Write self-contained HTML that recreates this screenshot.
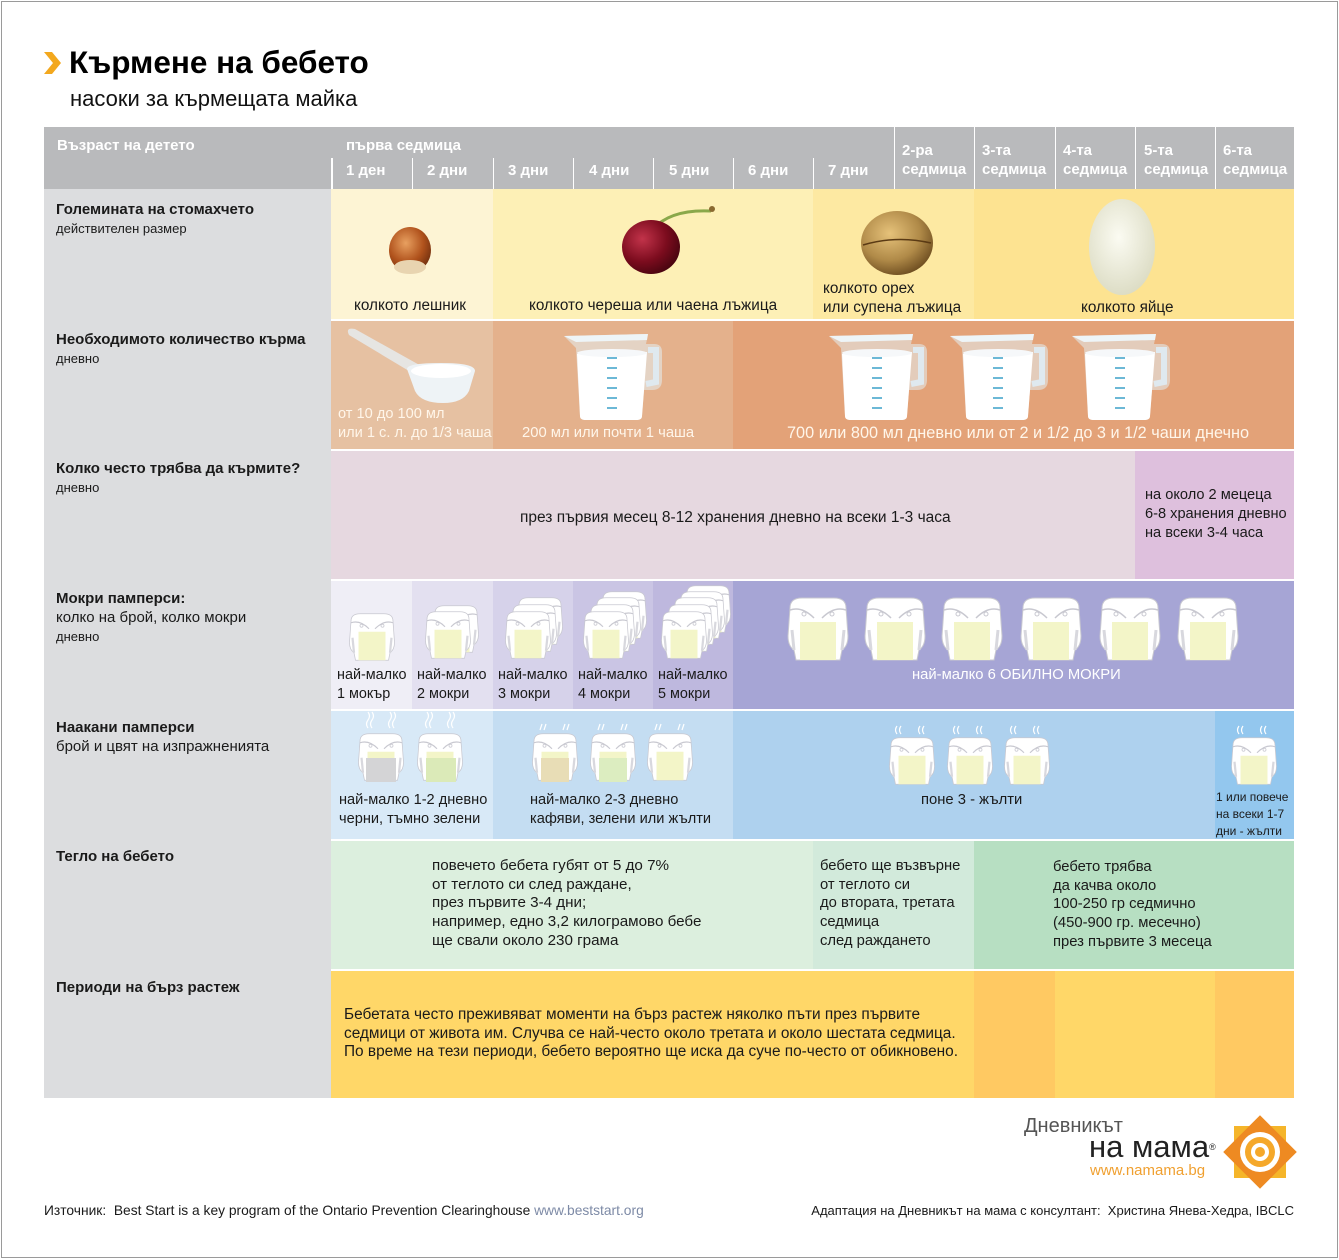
<!DOCTYPE html>
<html><head><meta charset="utf-8">
<style>
*{margin:0;padding:0;box-sizing:border-box}
body{width:1339px;height:1260px;background:#fff;position:relative;overflow:hidden;font-family:"Liberation Sans","DejaVu Sans",sans-serif;color:#1a1a1a}
.a{position:absolute}
.t{position:absolute;white-space:nowrap;font-size:15.3px;line-height:19px}
.h{color:#fff;font-weight:bold;font-size:15px;line-height:19px;position:absolute;white-space:nowrap}
.lb{position:absolute;left:56px;font-size:13px;line-height:19px;white-space:nowrap}
.lb b{font-size:15px}
.w{color:#fff6ea}
</style></head><body>
<div class="a" style="left:1px;top:1px;width:1337px;height:1257px;border:1px solid #9a9a9a"></div>

<svg class="a" style="left:42px;top:50px" width="20" height="26"><polygon points="2,2 10,2 19,13 10,24 2,24 11,13" fill="#f3a81e"/></svg>
<div class="t" style="left:69px;top:43px;font-size:31.5px;line-height:38px;font-weight:bold;color:#000">Кърмене на бебето</div>
<div class="t" style="left:70px;top:85px;font-size:22px;line-height:28px;color:#111">насоки за кърмещата майка</div>

<!-- header -->
<div class="a" style="left:44px;top:127px;width:1250px;height:62px;background:#b9babc"></div>
<div class="a" style="left:331px;top:158px;width:2px;height:31px;background:#fff"></div>
<div class="a" style="left:412px;top:158px;width:1px;height:31px;background:#fff"></div>
<div class="a" style="left:493px;top:158px;width:1px;height:31px;background:#fff"></div>
<div class="a" style="left:573px;top:158px;width:1px;height:31px;background:#fff"></div>
<div class="a" style="left:653px;top:158px;width:1px;height:31px;background:#fff"></div>
<div class="a" style="left:733px;top:158px;width:1px;height:31px;background:#fff"></div>
<div class="a" style="left:813px;top:158px;width:1px;height:31px;background:#fff"></div>
<div class="a" style="left:894px;top:127px;width:1px;height:62px;background:#fff"></div>
<div class="a" style="left:974px;top:127px;width:1px;height:62px;background:#fff"></div>
<div class="a" style="left:1055px;top:127px;width:1px;height:62px;background:#fff"></div>
<div class="a" style="left:1135px;top:127px;width:1px;height:62px;background:#fff"></div>
<div class="a" style="left:1215px;top:127px;width:1px;height:62px;background:#fff"></div>
<div class="h" style="left:57px;top:136px">Възраст на детето</div>
<div class="h" style="left:346px;top:136px">първа седмица</div>
<div class="h" style="left:346px;top:161px">1 ден</div>
<div class="h" style="left:427px;top:161px">2 дни</div>
<div class="h" style="left:508px;top:161px">3 дни</div>
<div class="h" style="left:589px;top:161px">4 дни</div>
<div class="h" style="left:669px;top:161px">5 дни</div>
<div class="h" style="left:748px;top:161px">6 дни</div>
<div class="h" style="left:828px;top:161px">7 дни</div>
<div class="h" style="left:902px;top:141px">2-ра<br>седмица</div>
<div class="h" style="left:982px;top:141px">3-та<br>седмица</div>
<div class="h" style="left:1063px;top:141px">4-та<br>седмица</div>
<div class="h" style="left:1144px;top:141px">5-та<br>седмица</div>
<div class="h" style="left:1223px;top:141px">6-та<br>седмица</div>

<!-- label column -->
<div class="a" style="left:44px;top:189px;width:287px;height:909px;background:#dcdddf"></div>
<div class="lb" style="top:200px"><b>Големината на стомахчето</b><br>действителен размер</div>
<div class="lb" style="top:330px"><b>Необходимото количество кърма</b><br>дневно</div>
<div class="lb" style="top:459px"><b>Колко често трябва да кърмите?</b><br>дневно</div>
<div class="lb" style="top:589px"><b>Мокри памперси:</b><br><span style="font-size:15px">колко на брой, колко мокри</span><br>дневно</div>
<div class="lb" style="top:718px"><b>Наакани памперси</b><br><span style="font-size:15px">брой и цвят на изпражненията</span></div>
<div class="lb" style="top:847px"><b>Тегло на бебето</b></div>
<div class="lb" style="top:978px"><b>Периоди на бърз растеж</b></div>

<!-- stomach row -->
<div class="a" style="left:331px;top:189px;width:162px;height:130px;background:#fdf4d4"></div>
<div class="a" style="left:493px;top:189px;width:320px;height:130px;background:#fdf0b6"></div>
<div class="a" style="left:813px;top:189px;width:161px;height:130px;background:#fde9a2"></div>
<div class="a" style="left:974px;top:189px;width:320px;height:130px;background:#fde391"></div>
<svg class="a" style="left:331px;top:189px" width="963" height="130">
<defs>
<radialGradient id="hz" cx="0.4" cy="0.35" r="0.7"><stop offset="0" stop-color="#e8a060"/><stop offset="0.6" stop-color="#b0521c"/><stop offset="1" stop-color="#6e2e0e"/></radialGradient>
<radialGradient id="ch" cx="0.35" cy="0.35" r="0.7"><stop offset="0" stop-color="#c2334a"/><stop offset="0.6" stop-color="#7c0c1e"/><stop offset="1" stop-color="#4a0510"/></radialGradient>
<radialGradient id="wn" cx="0.4" cy="0.35" r="0.7"><stop offset="0" stop-color="#e6c27a"/><stop offset="0.6" stop-color="#b08a48"/><stop offset="1" stop-color="#6a4a1e"/></radialGradient>
<radialGradient id="eg" cx="0.45" cy="0.4" r="0.7"><stop offset="0" stop-color="#fbfbf2"/><stop offset="1" stop-color="#d8d8be"/></radialGradient>
</defs>
<ellipse cx="79" cy="61" rx="21" ry="23" fill="url(#hz)"/>
<ellipse cx="79" cy="78" rx="16" ry="7" fill="#e8d4b0"/>
<path d="M322 40 Q340 20 380 22" stroke="#8aa84a" stroke-width="3" fill="none"/>
<circle cx="381" cy="20" r="3" fill="#8a6a30"/>
<ellipse cx="320" cy="58" rx="29" ry="27" fill="url(#ch)"/>
<ellipse cx="566" cy="54" rx="36" ry="32" fill="url(#wn)"/>
<path d="M532 56 Q566 46 600 54" stroke="#5a3a14" stroke-width="1.5" fill="none"/>
<ellipse cx="791" cy="58" rx="33" ry="48" fill="url(#eg)"/>
</svg>
<div class="t" style="left:354px;top:296px">колкото лешник</div>
<div class="t" style="left:529px;top:296px">колкото череша или чаена лъжица</div>
<div class="t" style="left:823px;top:279px">колкото орех<br>или супена лъжица</div>
<div class="t" style="left:1081px;top:298px">колкото яйце</div>

<!-- milk row -->
<div class="a" style="left:331px;top:321px;width:162px;height:128px;background:#e6c1a2"></div>
<div class="a" style="left:493px;top:321px;width:240px;height:128px;background:#e4b18c"></div>
<div class="a" style="left:733px;top:321px;width:561px;height:128px;background:#e3a278"></div>
<svg class="a" style="left:0;top:0" width="1339" height="1260">
<defs>
<symbol id="jug" viewBox="0 0 104 92">
<path d="M2 6 L86 4 L84 14 L92 14 Q100 14 100 22 L100 50 Q100 60 90 60 L82 60 L80 86 Q80 90 74 90 L24 90 Q18 90 18 86 L14 18 Z" fill="#e4eef2" opacity="0.55"/>
<path d="M86 20 L94 20 L94 52 L84 54" stroke="#dfe9ef" stroke-width="6" fill="none"/>
<path d="M2 6 L86 4 L85 10 L14 12 Z" fill="#eef5f8"/>
<path d="M15 24 L85 22 L80 86 Q80 90 74 90 L24 90 Q18 90 18 86 Z" fill="#fff"/>
<ellipse cx="50" cy="23" rx="35" ry="4" fill="#f6f8fa"/>
<g stroke="#3aa0c8" stroke-width="1.5"><line x1="45" y1="28" x2="55" y2="28"/><line x1="45" y1="38" x2="55" y2="38"/><line x1="45" y1="48" x2="55" y2="48"/><line x1="45" y1="58" x2="55" y2="58"/><line x1="45" y1="68" x2="55" y2="68"/><line x1="45" y1="78" x2="55" y2="78"/></g>
</symbol>
<symbol id="dp" viewBox="0 0 64 66">
<path d="M4 12 Q4 2 16 2 L48 2 Q60 2 60 12 L62 40 Q62 50 56 54 L54 64 L10 64 L8 54 Q2 50 2 40 Z" fill="#fff" stroke="#c8c8d0" stroke-width="1"/>
<rect x="14" y="26" width="36" height="38" fill="#f3f5c8"/>
<path d="M4 14 Q16 10 28 22 M60 14 Q48 10 36 22" stroke="#c8c8d0" fill="none" stroke-width="1.5"/>
<circle cx="18" cy="18" r="2" fill="none" stroke="#c8c8d0"/><circle cx="46" cy="18" r="2" fill="none" stroke="#c8c8d0"/>
<path d="M6 34 L8 54 M58 34 L56 54" stroke="#d8d8de" stroke-width="3"/>
</symbol>
</defs>
<g transform="translate(345,327)">
<path d="M4 8 Q0 0 10 2 L78 40 L74 50 Z" fill="#e6eef2" opacity="0.8"/>
<path d="M62 42 Q62 36 96 36 Q130 36 130 44 L124 64 Q118 76 98 76 Q76 76 70 64 Z" fill="#eef3f6"/>
<ellipse cx="96" cy="44" rx="30" ry="7" fill="#fff"/>
</g>
<use href="#jug" x="562" y="330" width="104" height="92"/>
<use href="#jug" x="827" y="330" width="104" height="92"/>
<use href="#jug" x="948" y="330" width="104" height="92"/>
<use href="#jug" x="1070" y="330" width="104" height="92"/>
</svg>
<div class="t w" style="left:338px;top:405px;font-size:14.6px">от 10 до 100 мл<br>или 1 с. л. до 1/3 чаша</div>
<div class="t w" style="left:522px;top:424px;font-size:14.8px">200 мл или почти 1 чаша</div>
<div class="t w" style="left:787px;top:424px;font-size:16.3px">700 или 800 мл дневно или от 2 и 1/2 до 3 и 1/2 чаши днечно</div>

<!-- frequency -->
<div class="a" style="left:331px;top:451px;width:804px;height:128px;background:#e6d8e0"></div>
<div class="a" style="left:1135px;top:451px;width:159px;height:128px;background:#dec0dd"></div>
<div class="t" style="left:520px;top:508px;font-size:15.5px">през първия месец 8-12 хранения дневно на всеки 1-3 часа</div>
<div class="t" style="left:1145px;top:486px;font-size:14.6px">на около 2 мецеца<br>6-8 хранения дневно<br>на всеки 3-4 часа</div>

<!-- wet -->
<div class="a" style="left:331px;top:581px;width:81px;height:128px;background:#efeef6"></div>
<div class="a" style="left:412px;top:581px;width:81px;height:128px;background:#e3e0f0"></div>
<div class="a" style="left:493px;top:581px;width:80px;height:128px;background:#d6d2ea"></div>
<div class="a" style="left:573px;top:581px;width:80px;height:128px;background:#cac5e4"></div>
<div class="a" style="left:653px;top:581px;width:80px;height:128px;background:#beb8de"></div>
<div class="a" style="left:733px;top:581px;width:561px;height:128px;background:#a6a5d5"></div>

<!-- poop -->
<div class="a" style="left:331px;top:711px;width:162px;height:128px;background:#d8e9f7"></div>
<div class="a" style="left:493px;top:711px;width:240px;height:128px;background:#c4ddf2"></div>
<div class="a" style="left:733px;top:711px;width:482px;height:128px;background:#aed1ee"></div>
<div class="a" style="left:1215px;top:711px;width:79px;height:128px;background:#93c7ee"></div>

<svg class="a" style="left:0;top:0" width="1339" height="1260">
<use href="#dp" x="348" y="612" width="48" height="50"/>
<use href="#dp" x="432" y="604" width="48" height="50"/><use href="#dp" x="424" y="610" width="48" height="50"/>
<use href="#dp" x="516" y="596" width="48" height="50"/><use href="#dp" x="510" y="603" width="48" height="50"/><use href="#dp" x="504" y="610" width="48" height="50"/>
<use href="#dp" x="600" y="590" width="48" height="50"/><use href="#dp" x="594" y="596" width="48" height="50"/><use href="#dp" x="588" y="603" width="48" height="50"/><use href="#dp" x="582" y="610" width="48" height="50"/>
<use href="#dp" x="684" y="584" width="48" height="50"/><use href="#dp" x="678" y="590" width="48" height="50"/><use href="#dp" x="672" y="596" width="48" height="50"/><use href="#dp" x="666" y="603" width="48" height="50"/><use href="#dp" x="660" y="610" width="48" height="50"/>
<use href="#dp" x="786" y="596" width="64" height="66"/>
<use href="#dp" x="863" y="596" width="64" height="66"/>
<use href="#dp" x="940" y="596" width="64" height="66"/>
<use href="#dp" x="1019" y="596" width="64" height="66"/>
<use href="#dp" x="1098" y="596" width="64" height="66"/>
<use href="#dp" x="1176" y="596" width="64" height="66"/>
<use href="#dp" x="357" y="732" width="48" height="50"/><use href="#dp" x="416" y="732" width="48" height="50"/>
<use href="#dp" x="531" y="732" width="48" height="50"/><use href="#dp" x="589" y="732" width="48" height="50"/><use href="#dp" x="646" y="732" width="48" height="50"/>
<use href="#dp" x="888" y="736" width="48" height="50"/><use href="#dp" x="946" y="736" width="48" height="50"/><use href="#dp" x="1003" y="736" width="48" height="50"/>
<use href="#dp" x="1230" y="736" width="48" height="50"/>
<rect x="366" y="758" width="30" height="24" fill="#d4d4d6"/><rect x="426" y="758" width="30" height="24" fill="#dbeab8"/>
<rect x="541" y="758" width="28" height="24" fill="#e8ddb6"/><rect x="599" y="758" width="28" height="24" fill="#dcedc0"/>
<g stroke="#ffffff" stroke-width="1.2" fill="none">
<path d="M368 728 q-3 -4 0 -8 q3 -4 0 -8 M372 728 q-3 -4 0 -8 q3 -4 0 -8 M390 728 q-3 -4 0 -8 q3 -4 0 -8 M394 728 q-3 -4 0 -8 q3 -4 0 -8"/>
<path d="M427 728 q-3 -4 0 -8 q3 -4 0 -8 M431 728 q-3 -4 0 -8 q3 -4 0 -8 M449 728 q-3 -4 0 -8 q3 -4 0 -8 M453 728 q-3 -4 0 -8 q3 -4 0 -8"/>
<path d="M540 730 l2 -6 M544 730 l2 -6 M563 730 l2 -6 M567 730 l2 -6 M598 730 l2 -6 M602 730 l2 -6 M621 730 l2 -6 M625 730 l2 -6 M655 730 l2 -6 M659 730 l2 -6 M678 730 l2 -6 M682 730 l2 -6"/>
<path d="M897 734 q-3 -4 0 -8 M901 734 q-3 -4 0 -8 M920 734 q-3 -4 0 -8 M924 734 q-3 -4 0 -8 M955 734 q-3 -4 0 -8 M959 734 q-3 -4 0 -8 M978 734 q-3 -4 0 -8 M982 734 q-3 -4 0 -8 M1012 734 q-3 -4 0 -8 M1016 734 q-3 -4 0 -8 M1035 734 q-3 -4 0 -8 M1039 734 q-3 -4 0 -8 M1239 734 q-3 -4 0 -8 M1243 734 q-3 -4 0 -8 M1262 734 q-3 -4 0 -8 M1266 734 q-3 -4 0 -8"/>
</g>
</svg>
<div class="t" style="left:337px;top:666px;font-size:14.4px">най-малко<br>1 мокър</div>
<div class="t" style="left:417px;top:666px;font-size:14.4px">най-малко<br>2 мокри</div>
<div class="t" style="left:498px;top:666px;font-size:14.4px">най-малко<br>3 мокри</div>
<div class="t" style="left:578px;top:666px;font-size:14.4px">най-малко<br>4 мокри</div>
<div class="t" style="left:658px;top:666px;font-size:14.4px">най-малко<br>5 мокри</div>
<div class="t" style="left:912px;top:666px;color:#fff;font-size:14.8px">най-малко 6 ОБИЛНО МОКРИ</div>
<div class="t" style="left:339px;top:791px;font-size:14.6px">най-малко 1-2 дневно<br>черни, тъмно зелени</div>
<div class="t" style="left:530px;top:791px;font-size:14.6px">най-малко 2-3 дневно<br>кафяви, зелени или жълти</div>
<div class="t" style="left:921px;top:791px;font-size:14.8px">поне 3 - жълти</div>
<div class="t" style="left:1216px;top:789px;font-size:12px;line-height:17px">1 или повече<br>на всеки 1-7<br>дни - жълти</div>

<!-- weight -->
<div class="a" style="left:331px;top:841px;width:482px;height:128px;background:#dcefde"></div>
<div class="a" style="left:813px;top:841px;width:161px;height:128px;background:#d2eadb"></div>
<div class="a" style="left:974px;top:841px;width:320px;height:128px;background:#b7dfc2"></div>
<div class="t" style="left:432px;top:857px;line-height:18.7px;font-size:15.2px">повечето бебета губят от 5 до 7%<br>от теглото си след раждане,<br>през първите 3-4 дни;<br>например, едно 3,2 килограмово бебе<br>ще свали около 230 грама</div>
<div class="t" style="left:820px;top:857px;line-height:18.7px;font-size:14.8px">бебето ще възвърне<br>от теглото си<br>до втората, третата<br>седмица<br>след раждането</div>
<div class="t" style="left:1053px;top:858px;line-height:18.7px;font-size:14.8px">бебето трябва<br>да качва около<br>100-250 гр седмично<br>(450-900 гр. месечно)<br>през първите 3 месеца</div>

<!-- growth -->
<div class="a" style="left:331px;top:971px;width:643px;height:127px;background:#ffd768"></div>
<div class="a" style="left:974px;top:971px;width:81px;height:127px;background:#ffc962"></div>
<div class="a" style="left:1055px;top:971px;width:160px;height:127px;background:#ffd768"></div>
<div class="a" style="left:1215px;top:971px;width:79px;height:127px;background:#ffc962"></div>
<div class="t" style="left:344px;top:1006px;line-height:18.7px;font-size:15.4px">Бебетата често преживяват моменти на бърз растеж няколко пъти през първите<br>седмици от живота им. Случва се най-често около третата и около шестата седмица.<br>По време на тези периоди, бебето вероятно ще иска да суче по-често от обикновено.</div>

<!-- footer logo -->
<div class="t" style="left:1024px;top:1114px;font-size:20px;line-height:24px;color:#555">Дневникът</div>
<div class="t" style="left:1089px;top:1130px;font-size:31px;line-height:34px;color:#222">на мама<span style="font-size:9px;vertical-align:top">®</span></div>
<div class="t" style="left:1090px;top:1162px;font-size:15px;line-height:18px;color:#f0a030">www.namama.bg</div>
<svg class="a" style="left:1222px;top:1114px" width="76" height="76">
<g transform="translate(38,38)">
<rect x="-26" y="-26" width="52" height="52" fill="#f5b52a"/>
<rect x="-26" y="-26" width="52" height="52" fill="#ee8a22" transform="rotate(45)"/>
<circle r="20" fill="#fff"/>
<circle r="15" fill="#f5a82a"/>
<circle r="9" fill="#fff"/>
<circle r="5" fill="#f5a82a"/>
</g>
</svg>
<div class="t" style="left:44px;top:1201px;font-size:13.8px">Източник:&nbsp; Best Start is a key program of the Ontario Prevention Clearinghouse <span style="color:#7d8aa6">www.beststart.org</span></div>
<div class="t" style="right:45px;top:1201px;font-size:13px">Адаптация на Дневникът на мама с консултант:&nbsp; Христина Янева-Хедра, IBCLC</div>
</body></html>
